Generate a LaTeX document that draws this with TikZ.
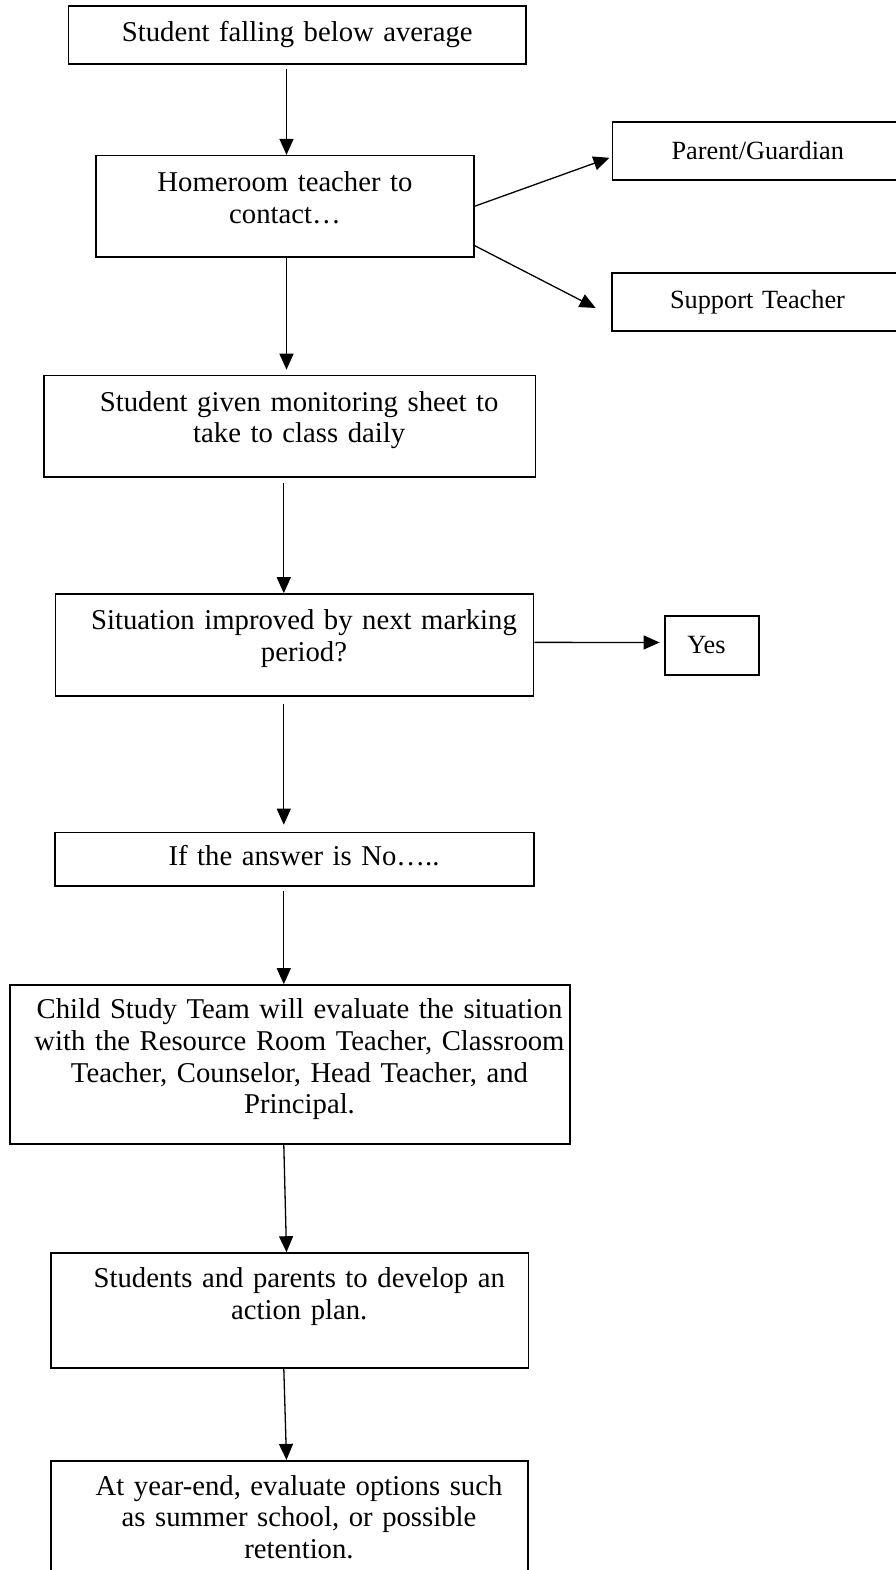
\documentclass[tikz,border=0pt]{standalone}
\usepackage{fontspec}
\setmainfont{Liberation Serif}
\usetikzlibrary{arrows.meta}
\tikzset{
  lskip/.style={execute at begin node={\leftskip=#1 plus 1fil\rightskip=0pt plus 1fil\parfillskip=0pt\parindent=0pt}},
  box/.style={draw, line width=1.6pt, inner sep=0pt, align=center,
    font={\fontsize{28.7}{31.7}\selectfont}, text height=20pt, lskip=0pt},
  sidebox/.style={draw, line width=1.6pt, inner sep=0pt, align=center,
    font={\fontsize{26.3}{30}\selectfont}, lskip=0pt},
  arr/.style={-{Triangle[length=16pt,width=14pt]}, line width=1.3pt},
}

\begin{document}
\begin{tikzpicture}[x=1pt, y=-1pt]
  \path[use as bounding box, fill=white] (0,0) rectangle (895,1570);
  % main column
  \node[box, text width=457.5pt, minimum height=58pt, text depth=6.6pt] (fall) at (297.25,35) {Student falling below average};
  \node[box, text width=378pt, minimum height=101pt, text depth=48.5pt] (home) at (285,206.2) {Homeroom teacher to\\ contact…};
  \node[box, lskip=19pt, text width=491.4pt, minimum height=101.5pt, text depth=50.3pt] (sheet) at (289.7,426.25) {Student given monitoring sheet to\\ take to class daily};
  \node[box, lskip=19pt, text width=478.3pt, minimum height=101.7pt, text depth=50.3pt] (improve) at (294.5,644.85) {Situation improved by next marking\\ period?};
  \node[box, lskip=19pt, text width=479pt, minimum height=53.5pt, text depth=6.6pt] (ifno) at (294.5,859.25) {If the answer is No…..};
  \node[box, lskip=19pt, text width=560pt, minimum height=159pt, text depth=111.7pt] (team) at (290,1064.5) {Child Study Team will evaluate the situation\\ with the Resource Room Teacher, Classroom\\ Teacher, Counselor, Head Teacher, and\\ Principal.};
  \node[box, lskip=19pt, text width=477.5pt, minimum height=115pt, text depth=66.3pt] (plan) at (289.75,1310.5) {Students and parents to develop an\\ action plan.};
  \node[box, lskip=19pt, text width=477pt, minimum height=118.6pt, text depth=70pt] (yearend) at (289.5,1520) {At year-end, evaluate options such\\ as summer school, or possible\\ retention.};
  % side boxes
  \node[sidebox, text width=290.5pt, minimum height=58pt] (parent) at (757.75,151) {Parent/Guardian};
  \node[sidebox, text width=291pt, minimum height=58pt] (support) at (757.5,302) {Support Teacher};
  \node[sidebox, lskip=-11pt, text width=94pt, minimum height=59pt] (yes) at (712,645.5) {Yes};
  % vertical lines of the arrows
  \coordinate (spine) at (283.8,0);
  \coordinate (spineb) at (286.5,0);
  \draw[arr, shorten <=4pt] (spineb |- fall.south) -- (spineb |- home.north);
  \draw[arr, shorten >=5pt] (spineb |- home.south) -- (spineb |- sheet.north);
  \draw[arr, shorten <=5pt] (spine |- sheet.south) -- (spine |- improve.north);
  \draw[arr, shorten <=7pt, shorten >=7pt] (spine |- improve.south) -- (spine |- ifno.north);
  \draw[arr, shorten <=4pt] (spine |- ifno.south) -- (spine |- team.north);
  \draw[arr] (spine |- team.south) -- (spineb |- plan.north);
  \draw[arr] (spine |- plan.south) -- (spineb |- yearend.north);
  % side arrows
  \draw[arr, shorten >=2.4pt] (home.east) -- ([yshift=-6pt]parent.west);
  \draw[arr] ([xshift=-1.4pt, yshift=-38.8pt]home.east) -- ([xshift=-15.5pt, yshift=-6pt]support.west);
  \draw[arr, shorten >=4.6pt] ([yshift=2.5pt]improve.east) -- ([yshift=3pt]yes.west);
\end{tikzpicture}
\end{document}
